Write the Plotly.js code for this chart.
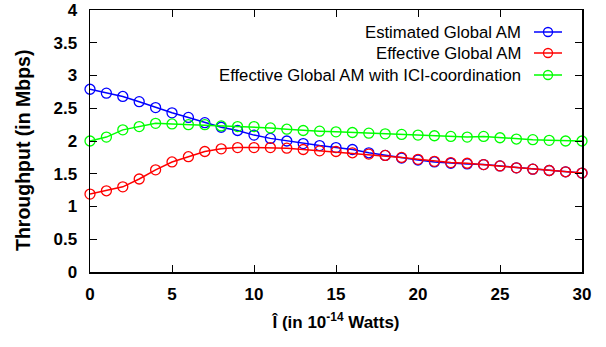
<!DOCTYPE html>
<html><head><meta charset="utf-8">
<script src="https://cdn.plot.ly/plotly-3.0.1.min.js"></script>
<style>html,body{margin:0;padding:0;background:#fff}#c{width:606px;height:347px}</style>
</head><body><div id="c"></div>
<script>
const xPower = [0,1,2,3,4,5,6,7,8,9,10,11,12,13,14,15,16,17,18,19,20,21,22,23,24,25,26,27,28,29,30];
const estimatedGlobalAM = [2.79,2.73,2.68,2.60,2.51,2.43,2.36,2.28,2.21,2.16,2.09,2.04,2.00,1.96,1.93,1.90,1.87,1.82,1.78,1.74,1.71,1.68,1.66,1.65,1.64,1.62,1.59,1.57,1.55,1.53,1.51];
const effectiveGlobalAM = [1.19,1.24,1.30,1.42,1.56,1.68,1.76,1.84,1.88,1.90,1.90,1.90,1.89,1.87,1.85,1.84,1.82,1.80,1.78,1.75,1.72,1.69,1.67,1.66,1.64,1.62,1.59,1.57,1.55,1.53,1.51];
const effectiveICI = [2.00,2.06,2.17,2.22,2.27,2.26,2.25,2.25,2.23,2.22,2.22,2.20,2.18,2.16,2.15,2.14,2.13,2.12,2.11,2.10,2.09,2.08,2.07,2.06,2.07,2.05,2.03,2.02,2.01,2.00,2.00];
const seriesNames = ["Estimated Global AM","Effective Global AM","Effective Global AM with ICI-coordination"];
const seriesColors = ["#0000ff","#ff0000","#00ff00"];
const xTicks = [0,5,10,15,20,25,30];
const yTicks = [0,0.5,1,1.5,2,2.5,3,3.5,4];
const yTickText = ["0","0.5","1","1.5","2","2.5","3","3.5","4"];
const yTitle = "Throughput (in Mbps)";
const xTitle = "Î (in 10<sup>-14</sup> Watts)";

const seriesData = [estimatedGlobalAM, effectiveGlobalAM, effectiveICI];
const traces = seriesData.map((ys,i)=>({
  x: xPower, y: ys, type:'scatter', mode:'lines+markers', name: seriesNames[i],
  line:{color:seriesColors[i], width:1.5},
  marker:{symbol:'circle-open', size:10, color:seriesColors[i], line:{width:1.3, color:seriesColors[i]}},
  cliponaxis:false, showlegend:false
}));

const boldFont = {family:'"Liberation Sans",Arial,sans-serif', size:17, color:'#000', weight:'bold'};
const shapes = [];
const annotations = [];
const legY = [32,53,75];
seriesNames.forEach((n,i)=>{
  const yp = 1 - (legY[i]-10)/262;
  annotations.push({xref:'paper', yref:'paper', x:(523-90)/492, y:yp, xanchor:'right', yanchor:'middle',
    text:n, showarrow:false, font:{family:'"Liberation Sans",Arial,sans-serif', size:16.7, color:'#000'}});
  shapes.push({type:'line', xref:'paper', yref:'paper', x0:(534-90)/492, x1:(562-90)/492, y0:yp, y1:yp, line:{color:seriesColors[i], width:1.5}});
  shapes.push({type:'circle', xref:'paper', yref:'paper', xsizemode:'pixel', ysizemode:'pixel', xanchor:(548-90)/492, yanchor:yp,
    x0:-4.5, x1:4.5, y0:-4.5, y1:4.5, line:{color:seriesColors[i], width:1.3}, fillcolor:'rgba(0,0,0,0)'});
});
annotations.push({xref:'paper', yref:'paper', x:(23-90)/492, y:1-(151-10)/262, xanchor:'center', yanchor:'middle',
  textangle:-90, text:yTitle, showarrow:false, font:{family:'"Liberation Sans",Arial,sans-serif', size:19.5, color:'#000', weight:'bold'}});

const layout = {
  width:606, height:347,
  margin:{l:90, r:24, t:10, b:75},
  paper_bgcolor:'#fff', plot_bgcolor:'#fff',
  showlegend:false,
  xaxis:{range:[0,30], tickvals:xTicks, ticks:'inside', ticklen:7, tickwidth:1, tickcolor:'#000',
    showline:true, linecolor:'#000', linewidth:1.5, mirror:'ticks', showgrid:false, zeroline:false,
    tickfont:boldFont, ticklabelstandoff:6,
    title:{text:xTitle, font:boldFont, standoff:13}},
  yaxis:{range:[0,4], tickvals:yTicks, ticktext:yTickText, ticks:'inside', ticklen:7, tickwidth:1, tickcolor:'#000',
    showline:true, linecolor:'#000', linewidth:1.5, mirror:'ticks', showgrid:false, zeroline:false,
    tickfont:boldFont, ticklabelstandoff:8},
  shapes:shapes, annotations:annotations
};
Plotly.newPlot('c', traces, layout, {staticPlot:true, displayModeBar:false});
</script></body></html>
